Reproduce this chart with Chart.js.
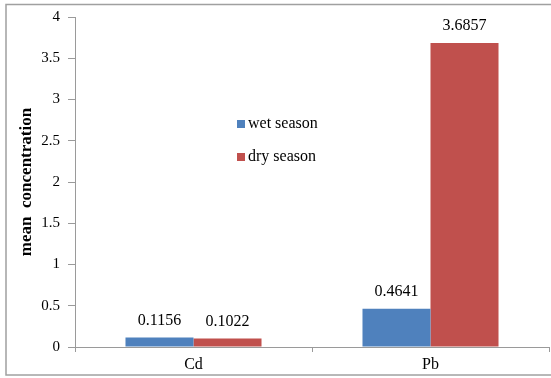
<!DOCTYPE html>
<html>
<head>
<meta charset="utf-8">
<script src="https://cdn.jsdelivr.net/npm/chart.js@4.4.0/dist/chart.umd.min.js"></script>
<style>
    html, body { margin: 0; padding: 0; background: #fff; }
    #wrap { position: relative; width: 551px; height: 378px; }
</style>
</head>
<body>
<div id="wrap"><canvas id="grafica" width="551" height="378"></canvas></div>
<script>
let metales = ["Cd", "Pb"];
let temporadaHumeda = [0.1156, 0.4641];
let temporadaSeca = [0.1022, 3.6857];
let etiquetasSeries = ["wet season", "dry season"];
let coloresSeries = ["#4F81BD", "#C0504D"];
let ticksY = [0, 0.5, 1, 1.5, 2, 2.5, 3, 3.5, 4];

const fuente = "'Liberation Serif', 'Times New Roman', serif";

// marco gris alrededor de todo el grafico
const marco = {
    id: "marco",
    beforeDraw(chart) {
        let ctx = chart.ctx;
        ctx.save();
        ctx.strokeStyle = "#a0a0a0";
        ctx.lineWidth = 1.5;
        ctx.strokeRect(6, 4.5, 560, 370.5);
        ctx.restore();
    }
};

// valores encima de cada barra
const valores = {
    id: "valores",
    afterDatasetsDraw(chart) {
        let ctx = chart.ctx;
        ctx.save();
        ctx.font = "16px " + fuente;
        ctx.fillStyle = "#000";
        ctx.textAlign = "center";
        ctx.textBaseline = "middle";
        chart.data.datasets.forEach((ds, i) => {
            chart.getDatasetMeta(i).data.forEach((bar, j) => {
                ctx.fillText(ds.data[j].toFixed(4), bar.x, bar.y - 17);
            });
        });
        ctx.restore();
    }
};

// leyenda dentro del area del grafico
const leyenda = {
    id: "leyenda",
    afterDraw(chart) {
        let ctx = chart.ctx;
        ctx.save();
        ctx.font = "16px " + fuente;
        ctx.textBaseline = "middle";
        ctx.textAlign = "left";
        chart.data.datasets.forEach((ds, i) => {
            let y = 124 + i * 33;
            ctx.fillStyle = ds.backgroundColor;
            ctx.fillRect(237, y - 4, 8, 8);
            ctx.fillStyle = "#000";
            ctx.fillText(ds.label, 248, y);
        });
        ctx.restore();
    }
};

let ctx = document.getElementById("grafica").getContext("2d");
new Chart(ctx, {
    type: "bar",
    data: {
        labels: metales,
        datasets: [{
            label: etiquetasSeries[0],
            data: temporadaHumeda,
            backgroundColor: coloresSeries[0],
            categoryPercentage: 0.574,
            barPercentage: 1
        }, {
            label: etiquetasSeries[1],
            data: temporadaSeca,
            backgroundColor: coloresSeries[1],
            categoryPercentage: 0.574,
            barPercentage: 1
        }]
    },
    options: {
        responsive: false,
        animation: false,
        layout: { padding: { left: 0, right: 2, top: 14, bottom: 0 } },
        plugins: {
            legend: { display: false },
            tooltip: { enabled: false }
        },
        scales: {
            x: {
                offset: true,
                grid: {
                    offset: true,
                    drawOnChartArea: false,
                    drawTicks: true,
                    tickLength: 5,
                    color: "#9a9a9a"
                },
                border: { color: "#9a9a9a", width: 1 },
                ticks: {
                    color: "#000",
                    font: { family: fuente, size: 16 },
                    padding: 3
                },
                afterFit(scale) { scale.height = 31; }
            },
            y: {
                min: 0,
                max: 4,
                afterBuildTicks(scale) {
                    scale.ticks = ticksY.map(v => ({ value: v }));
                },
                grid: {
                    drawOnChartArea: false,
                    drawTicks: true,
                    tickLength: 7,
                    color: "#9a9a9a"
                },
                border: { color: "#9a9a9a", width: 1 },
                ticks: {
                    color: "#000",
                    font: { family: fuente, size: 15 },
                    padding: 8,
                    callback: v => String(v)
                },
                title: {
                    display: true,
                    text: "mean  concentration",
                    color: "#000",
                    font: { family: fuente, size: 17, weight: "bold" },
                    padding: { top: 16, bottom: 4 }
                },
                afterFit(scale) { scale.width = 75; }
            }
        }
    },
    plugins: [marco, valores, leyenda]
});
</script>
</body>
</html>
